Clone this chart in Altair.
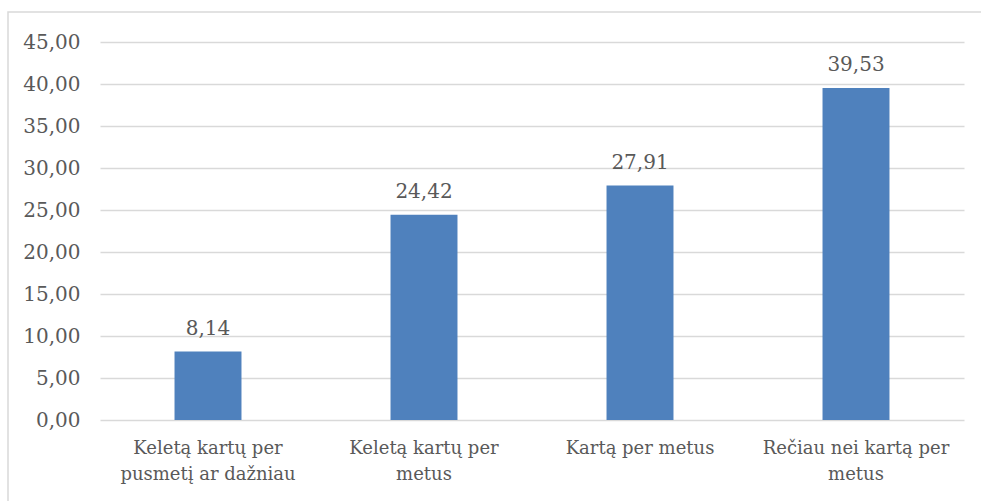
import altair as alt
import pandas as pd

categories = ["Keletą kartų per\npusmetį ar dažniau", "Keletą kartų per\nmetus",
              "Kartą per metus", "Rečiau nei kartą per\nmetus"]
values = [8.14, 24.42, 27.91, 39.53]
y_ticks = [0, 5, 10, 15, 20, 25, 30, 35, 40, 45]

df = pd.DataFrame({"cat": categories, "val": values})

FONT = "DejaVu Serif"
TXT = "#595959"
FS = 20

x_enc = alt.X("cat:N", sort=categories, title=None,
              scale=alt.Scale(paddingInner=0.69, paddingOuter=0.345),
              axis=alt.Axis(labelExpr="split(datum.label, '\\n')", labelAngle=0,
                            labelFont=FONT, labelFontSize=18, labelColor=TXT,
                            labelPadding=19, labelLineHeight=26, labelBaseline="top",
                            domain=False, ticks=False, grid=False, labelLimit=400))
y_enc = alt.Y("val:Q", title=None,
              scale=alt.Scale(domain=[0, 45], nice=False),
              axis=alt.Axis(values=y_ticks, labelExpr="replace(format(datum.value, '.2f'), '.', ',')",
                            labelFont=FONT, labelFontSize=FS, labelColor=TXT, labelPadding=20,
                            domain=False, ticks=False, grid=True, gridColor="#d9d9d9",
                            gridWidth=1.5))

base = alt.Chart(df)
bars = base.mark_bar(color="#4f81bd").encode(x=x_enc, y=y_enc)
labels = base.transform_calculate(
    lbl="replace(format(datum.val, '.2f'), '.', ',')"
).mark_text(font=FONT, fontSize=FS, color=TXT, baseline="alphabetic", dy=-17).encode(
    x=x_enc, y=y_enc, text="lbl:N")
frame = alt.Chart(pd.DataFrame({"a": [0]})).mark_rect(
    fill=None, stroke="#d9d9d9", strokeWidth=1.5).encode(
    x=alt.value(-92), y=alt.value(-30), x2=alt.value(950), y2=alt.value(600))

chart = alt.layer(frame, bars, labels).properties(
    width=864, height=378,
    padding={"left": 100, "top": 42, "right": 17, "bottom": 81},
    autosize=alt.AutoSizeParams(type="none"),
    view=alt.ViewBackground(stroke="transparent", strokeWidth=0, strokeOpacity=0),
).configure_view(stroke="transparent", strokeWidth=0, strokeOpacity=0
).configure_axis(domain=False, ticks=False).configure(background="white")

chart.save("out.html", embed_options={"renderer": "svg", "actions": False})
